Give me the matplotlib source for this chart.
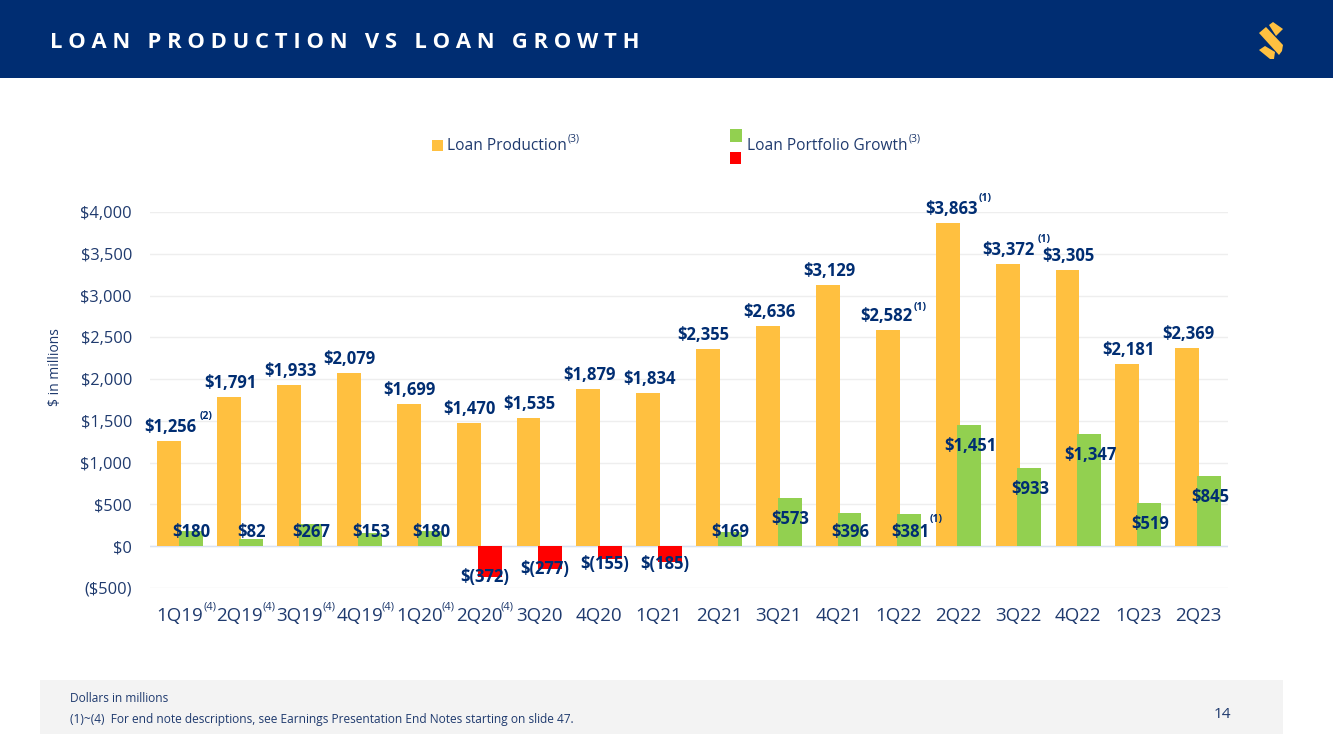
import matplotlib
matplotlib.use('Agg')
import matplotlib.pyplot as plt
from matplotlib.patches import Rectangle, Polygon
from matplotlib.transforms import Affine2D, offset_copy

plt.rcParams['font.family'] = ['Open Sans', 'DejaVu Sans']

quarters = ['1Q19', '2Q19', '3Q19', '4Q19', '1Q20', '2Q20', '3Q20', '4Q20', '1Q21',
            '2Q21', '3Q21', '4Q21', '1Q22', '2Q22', '3Q22', '4Q22', '1Q23', '2Q23']
production = [1256, 1791, 1933, 2079, 1699, 1470, 1535, 1879, 1834,
              2355, 2636, 3129, 2582, 3863, 3372, 3305, 2181, 2369]
growth = [180, 82, 267, 153, 180, -372, -277, -155, -185,
          169, 573, 396, 381, 1451, 933, 1347, 519, 845]
y_ticks = [-500, 0, 500, 1000, 1500, 2000, 2500, 3000, 3500, 4000]
y_tick_labels = ['($500)', '$0', '$500', '$1,000', '$1,500', '$2,000', '$2,500',
                 '$3,000', '$3,500', '$4,000']
tick_notes = [0, 1, 2, 3, 4, 5]                # quarters with (4)
production_notes = {0: '(2)', 12: '(1)', 13: '(1)', 14: '(1)'}
growth_notes = {12: '(1)'}

NAVY = '#002D72'
TEXT = '#1F3A6E'
ORANGE = '#FFC040'
GREEN = '#92D050'
RED = '#FF0000'

fig = plt.figure(figsize=(13.33, 7.49), dpi=100)
# pixel coordinates of the slide, origin top left
px = Affine2D().scale(1, -1).translate(0, 749)

# header and footer
fig.add_artist(Rectangle((0, 0), 1333, 78, color=NAVY, lw=0, transform=px))
fig.add_artist(Rectangle((40, 680), 1243, 54, color='#F3F3F3', lw=0, transform=px))
fig.text(50, 43, 'L O A N   P R O D U C T I O N   V S   L O A N   G R O W T H', transform=px,
         color='white', fontsize=15.85, fontweight='bold', va='center', ha='left')
fig.add_artist(Polygon([(1269, 25), (1273, 22), (1283, 29), (1276, 36)], color=ORANGE, lw=0, transform=px))
fig.add_artist(Polygon([(1259, 33), (1266, 27), (1283, 45), (1282, 51), (1279, 55)], color=ORANGE, lw=0, transform=px))
fig.add_artist(Polygon([(1259, 50), (1265, 46), (1275, 52), (1274, 59), (1270, 59)], color=ORANGE, lw=0, transform=px))
fig.text(70, 699, 'Dollars in millions', transform=px, color=TEXT, fontsize=8.6, va='center')
fig.text(70, 719, '(1)~(4)  For end note descriptions, see Earnings Presentation End Notes starting on slide 47.',
         transform=px, color=TEXT, fontsize=8.6, va='center')
fig.text(1222, 715, '14', transform=px, color=TEXT, fontsize=11, va='center', ha='center')

# legend
fig.add_artist(Rectangle((432, 140), 11, 11, color=ORANGE, lw=0, transform=px))
fig.add_artist(Rectangle((730, 129), 12, 13, color=GREEN, lw=0, transform=px))
fig.add_artist(Rectangle((730, 152), 11, 12, color=RED, lw=0, transform=px))
fig.text(447, 146, 'Loan Production', transform=px, color=TEXT, fontsize=11.2, va='center')
fig.text(568, 139, '(3)', transform=px, color=TEXT, fontsize=7.5, va='center')
fig.text(747, 146, 'Loan Portfolio Growth', transform=px, color=TEXT, fontsize=11.2, va='center')
fig.text(909, 139, '(3)', transform=px, color=TEXT, fontsize=7.5, va='center')

fig.text(55, 367, '$ in millions', transform=px, color=TEXT, fontsize=10, rotation=90,
         va='center', ha='center')

ax = fig.add_axes([150 / 1333, 1 - 588 / 749, 1078 / 1333, 376 / 749])
ax.set_xlim(-0.5, 17.5)
ax.set_ylim(-500, 4000)
for s in ax.spines.values():
    s.set_visible(False)
ax.set_axisbelow(True)
ax.yaxis.grid(True, color='#EEEEEE', lw=1)
ax.axhline(0, color='#D9E2F3', lw=1, zorder=1)

x = list(range(len(quarters)))
ax.bar([i - 0.18 for i in x], production, width=0.4, color=ORANGE, zorder=2)
ax.bar([i + 0.18 for i in x], growth, width=0.4,
       color=[GREEN if v > 0 else RED for v in growth], zorder=3)

ax.set_yticks(y_ticks)
ax.set_yticklabels(y_tick_labels, color=TEXT, fontsize=11.8)
ax.set_xticks(x)
ax.set_xticklabels(quarters, color=TEXT, fontsize=13.5)
ax.tick_params(axis='both', length=0)
ax.tick_params(axis='y', pad=13)
ax.tick_params(axis='x', pad=14)


def label(i, y, text, dx=0, dy=0, **kw):
    # data position plus an offset in pixels (dy up)
    t = offset_copy(ax.transData, fig=fig, x=dx, y=dy, units='dots')
    ax.text(i, y, text, transform=t, ha='center', va='center', clip_on=False, zorder=5, **kw)


bold = dict(color=NAVY, fontsize=12, fontweight='bold')
note = dict(color=NAVY, fontsize=7.5, fontweight='bold')
per_px = 4500 / 376
# a few labels sit off centre on the slide
label_nudge = {9: -6, 12: -3, 13: 3}

for i, v in enumerate(production):
    label(i - 0.18, v, '${:,}'.format(v), dx=1 + label_nudge.get(i, 0), dy=14, **bold)
    if i in production_notes:
        if i == 12:
            label(i - 0.18, v, production_notes[i], dx=32, dy=23, **note)
        else:
            label(i - 0.18, v, production_notes[i], dx=37, dy=25, **note)

for i, v in enumerate(growth):
    if v > 0:
        y = max(v - 19 * per_px, 190)
        text = '${:,}'.format(v)
        dx = 1
    else:
        y = min(v + 2 * per_px, -190)
        text = '$({:,})'.format(-v)
        dx = -5
    label(i + 0.18, y, text, dx=dx, dy=-2, **bold)
    if i in growth_notes:
        label(i + 0.18, y, growth_notes[i], dx=27, dy=11, **note)

for i in tick_notes:
    label(i, -500, '(4)', dx=30 - i * 0.5, dy=-19, color=TEXT, fontsize=8)

fig.savefig('out.png', dpi=100)
